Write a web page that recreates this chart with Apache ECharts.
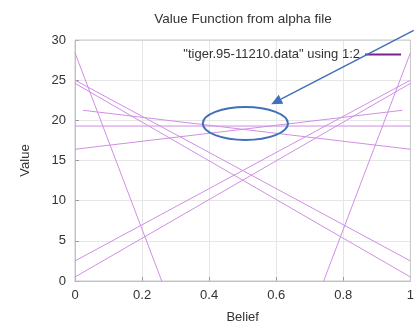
<!DOCTYPE html>
<html><head><meta charset="utf-8">
<script src="https://cdn.jsdelivr.net/npm/echarts@6/dist/echarts.min.js"></script>
<style>html,body{margin:0;padding:0;background:#fff}#c{width:417px;height:329px}</style>
</head><body><div id="c"></div>
<script>
// alpha-vector segments: start belief/value, end belief/value
const segX0 = [0, 0, 0, 0, 0, 0, 0, 0, 0.024];
const segY0 = [28.4, -81.4, 25.0, 24.6, 2.5, 0.5, 19.29, 16.4, 21.25];
const segX1 = [1, 1, 1, 1, 1, 1, 1, 0.976, 1];
const segY1 = [-81.4, 28.4, 2.5, 0.5, 25.0, 24.6, 19.29, 21.25, 16.4];
const xTicks = [0, 0.2, 0.4, 0.6, 0.8, 1];
const yTicks = [0, 5, 10, 15, 20, 25, 30];
const seriesName = '"tiger.95-11210.data" using 1:2';
// annotation anchors (data coords)
const ellipseCenter = [0.508, 19.6];
const ellipseRadius = [0.127, 2.05];
const arrowTail = [1.01, 31.2];
const arrowTip = [0.585, 22.0];

const font = 'Liberation Sans, Arial, sans-serif';
const chart = echarts.init(document.getElementById('c'), null, {renderer: 'canvas'});
const series = segX0.map((x0, i) => ({
  name: seriesName, type: 'line', symbol: 'none', clip: true, silent: true,
  color: '#9b30c8',
  lineStyle: {color: '#cf8fe3', width: 1},
  emphasis: {disabled: true},
  data: [[x0, segY0[i]], [segX1[i], segY1[i]]]
}));
chart.setOption({
  animation: false,
  title: {text: 'Value Function from alpha file', left: 238, textAlign: 'center', top: 7,
    textStyle: {fontFamily: font, fontSize: 13.5, fontWeight: 'normal', color: '#333'}},
  legend: {data: [{name: seriesName}], right: 11, top: 43, align: 'right', itemWidth: 36, itemHeight: 2,
    icon: 'rect', itemGap: 6, textStyle: {fontFamily: font, fontSize: 13, color: '#333'},
    itemStyle: {color: '#7a2290'}},
  grid: {left: 75, right: 2, top: 40, bottom: 44, containLabel: false},
  xAxis: {type: 'value', min: 0, max: 1, interval: 0.2, name: 'Belief', nameLocation: 'middle', nameGap: 30,
    nameTextStyle: {fontFamily: font, fontSize: 13, color: '#333'},
    axisLine: {show: true, lineStyle: {color: '#bbb'}},
    axisTick: {show: true, inside: true, length: 4, lineStyle: {color: '#999'}},
    splitLine: {show: true, lineStyle: {color: '#e6e6e6'}},
    axisLabel: {fontFamily: font, fontSize: 13, color: '#333', margin: 8,
      formatter: v => xTicks.includes(+v.toFixed(1)) ? String(+v.toFixed(1)) : ''}},
  yAxis: {type: 'value', min: 0, max: 30, interval: 5, name: 'Value', nameLocation: 'middle', nameGap: 43,
    nameTextStyle: {fontFamily: font, fontSize: 13, color: '#333'},
    axisLine: {show: true, lineStyle: {color: '#bbb'}},
    axisTick: {show: true, inside: true, length: 4, lineStyle: {color: '#999'}},
    splitLine: {show: true, lineStyle: {color: '#e6e6e6'}},
    axisLabel: {fontFamily: font, fontSize: 13, color: '#333', margin: 9,
      formatter: v => yTicks.includes(v) ? String(v) : ''}},
  series: series
});

// plot border and annotations
const p = d => chart.convertToPixel({gridIndex: 0}, d);
const c = p(ellipseCenter);
const rr = p([ellipseCenter[0] + ellipseRadius[0], ellipseCenter[1] + ellipseRadius[1]]);
const tl = p([0, 30]), br = p([1, 0]);
const tail = p(arrowTail), tip = p(arrowTip);
const dx = tip[0] - tail[0], dy = tip[1] - tail[1];
const L = Math.hypot(dx, dy), ux = dx / L, uy = dy / L;
const headLen = 11, headW = 5;
const base = [tip[0] - ux * headLen, tip[1] - uy * headLen];
chart.setOption({graphic: [
  {type: 'rect', shape: {x: tl[0], y: tl[1], width: br[0] - tl[0], height: br[1] - tl[1]},
    style: {fill: 'none', stroke: '#c8c8c8', lineWidth: 1}, z: 1, silent: true},
  {type: 'ellipse', shape: {cx: c[0], cy: c[1], rx: rr[0] - c[0], ry: c[1] - rr[1]},
    style: {fill: 'none', stroke: '#4170b8', lineWidth: 2}, z: 100},
  {type: 'line', shape: {x1: tail[0], y1: tail[1], x2: base[0], y2: base[1]},
    style: {stroke: '#4170b8', lineWidth: 1.5}, z: 100},
  {type: 'polygon', shape: {points: [tip, [base[0] - uy * headW, base[1] + ux * headW], [base[0] + uy * headW, base[1] - ux * headW]]},
    style: {fill: '#4170b8'}, z: 100}
]});
</script></body></html>
